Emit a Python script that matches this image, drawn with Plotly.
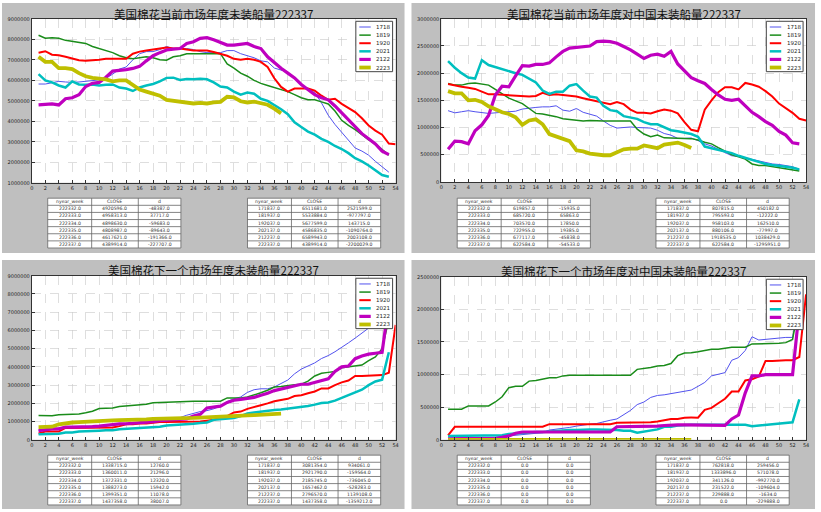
import plotly.graph_objects as go

W, H = 821, 512


def fx(p):
    return p / W


def fy(p):
    return 1 - p / H


UNIT = 1_000_000
names = ["1718", "1819", "1920", "2021", "2122", "2223"]
colors = ["#5252ee", "#1a8c1a", "#ff0000", "#00bfbf", "#bf00bf", "#bfbf00"]
widths = [1.0, 1.5, 2.0, 2.5, 3.2, 3.8]

# ---------- Panel A: current marketing year, total (millions) ----------
A1718 = [5.82, 5.82, 5.88, 5.95, 5.92, 5.90, 5.92, 5.95, 6.00, 6.02,
         6.10, 6.30, 6.55, 6.65, 7.00, 7.30, 7.40, 7.40, 7.50, 7.65,
         7.55, 7.55, 7.55, 7.50, 7.40, 7.35, 7.35, 7.35, 7.45, 7.45,
         7.30, 7.20, 7.10, 6.95, 6.90, 6.60, 6.511681, 6.40, 6.10, 5.80,
         5.60, 5.40, 4.90, 4.30, 3.85, 3.45, 3.05, 2.70, 2.55, 2.35,
         2.05, 1.80, 1.52]
A1819 = [8.20, 8.05, 8.08, 8.05, 7.95, 7.90, 7.85, 7.80, 7.65, 7.55,
         7.45, 7.35, 7.20, 7.10, 7.05, 7.10, 7.15, 7.10, 7.00, 6.98,
         7.15, 7.20, 7.30, 7.30, 7.30, 7.30, 7.30, 7.30, 6.80, 6.60,
         6.35, 6.20, 6.00, 5.85, 5.75, 5.65, 5.533884, 5.45, 5.30, 5.15,
         5.05, 5.05, 4.95, 4.85, 4.50, 4.05, 3.80, 3.60, 3.35, 3.10,
         2.90, 2.60, 2.35]
A1920 = [7.35, 7.42, 7.25, 7.22, 7.15, 7.05, 6.98, 6.95, 6.97, 7.00,
         7.05, 7.05, 7.02, 7.05, 7.30, 7.40, 7.45, 7.50, 7.55, 7.60,
         7.55, 7.55, 7.50, 7.45, 7.45, 7.45, 7.38, 7.30, 7.20, 7.05,
         7.00, 7.05, 7.00, 6.90, 6.65, 6.10, 5.677599, 5.45, 5.60, 5.60,
         5.60, 5.50, 5.25, 5.05, 5.10, 4.85, 4.65, 4.45, 4.15, 3.80,
         3.55, 3.35, 2.92, 2.88]
A2021 = [6.30, 6.00, 5.90, 5.75, 5.65, 5.95, 5.80, 5.78, 5.80, 5.75,
         5.78, 5.80, 5.65, 5.60, 5.48, 5.65, 5.75, 5.82, 5.95, 6.12,
         6.13, 6.02, 6.07, 6.05, 6.08, 6.05, 5.90, 5.70, 5.65, 5.45,
         5.30, 5.40, 5.35, 5.10, 5.00, 4.80, 4.586835, 4.35, 3.95, 3.72,
         3.50, 3.35, 3.15, 3.00, 2.80, 2.65, 2.45, 2.20, 2.05, 1.85,
         1.60, 1.38, 1.30]
A2122 = [4.80, 4.82, 4.85, 4.80, 5.10, 5.15, 5.30, 5.70, 5.85, 5.90,
         6.15, 6.45, 6.48, 6.52, 6.58, 6.68, 6.95, 7.20, 7.35, 7.48,
         7.52, 7.55, 7.80, 7.88, 8.05, 8.08, 7.98, 7.85, 7.72, 7.72,
         7.75, 7.80, 7.65, 7.55, 7.15, 6.85, 6.589943, 6.35, 6.12, 5.80,
         5.55, 5.30, 5.15, 5.05, 4.75, 4.40, 4.05, 3.75, 3.40, 3.15,
         2.90, 2.55, 2.38]
A2223 = [7.15, 6.90, 6.90, 6.60, 6.60, 6.55, 6.35, 6.20, 6.12, 6.10,
         6.05, 5.95, 6.00, 6.00, 5.80, 5.55, 5.45, 5.35, 5.25, 5.05,
         5.00, 4.95, 4.90, 4.87, 4.90, 4.87, 4.92, 4.95, 5.20, 5.17,
         4.98, 4.920596, 4.958313, 4.898630, 4.808987, 4.617621, 4.389914]

# ---------- Panel B: current marketing year, to China (millions) ----------
B1718 = [1.31, 1.27, 1.29, 1.31, 1.29, 1.27, 1.26, 1.27, 1.28, 1.29,
         1.30, 1.34, 1.36, 1.37, 1.38, 1.38, 1.40, 1.32, 1.30, 1.35,
         1.28, 1.25, 1.21, 1.12, 1.04, 0.99, 1.00, 1.01, 1.00, 0.99,
         0.99, 0.95, 0.89, 0.86, 0.80, 0.80, 0.807815, 0.76, 0.70, 0.66,
         0.60, 0.55, 0.48, 0.47, 0.44, 0.41, 0.38, 0.35, 0.33, 0.32,
         0.30, 0.28, 0.23]
B1819 = [1.81, 1.78, 1.78, 1.81, 1.82, 1.80, 1.78, 1.70, 1.62, 1.54,
         1.49, 1.44, 1.35, 1.26, 1.25, 1.23, 1.20, 1.16, 1.15, 1.13,
         1.12, 1.13, 1.12, 1.12, 1.12, 1.12, 1.12, 1.12, 0.97, 0.88,
         0.83, 0.86, 0.81, 0.81, 0.81, 0.80, 0.795593, 0.77, 0.73, 0.70,
         0.63, 0.56, 0.50, 0.46, 0.42, 0.33, 0.30, 0.30, 0.28, 0.26,
         0.25, 0.23, 0.20]
B1920 = [1.80, 1.77, 1.75, 1.73, 1.71, 1.66, 1.61, 1.61, 1.60, 1.60,
         1.59, 1.58, 1.57, 1.58, 1.64, 1.60, 1.61, 1.60, 1.59, 1.57,
         1.54, 1.51, 1.48, 1.46, 1.43, 1.47, 1.43, 1.33, 1.27, 1.27,
         1.26, 1.30, 1.33, 1.31, 1.26, 1.10, 0.958103, 0.93, 1.33, 1.50,
         1.65, 1.74, 1.74, 1.70, 1.82, 1.79, 1.75, 1.67, 1.57, 1.44,
         1.35, 1.27, 1.16, 1.13]
B2021 = [2.22, 2.10, 2.00, 1.92, 1.90, 2.24, 2.15, 2.11, 2.08, 2.04,
         2.00, 1.97, 1.90, 1.83, 1.68, 1.62, 1.66, 1.66, 1.77, 1.80,
         1.68, 1.57, 1.55, 1.40, 1.32, 1.30, 1.21, 1.18, 1.16, 1.10,
         1.06, 1.06, 1.00, 0.95, 0.93, 0.90, 0.880106, 0.83, 0.65, 0.62,
         0.59, 0.57, 0.53, 0.48, 0.44, 0.41, 0.37, 0.33, 0.31, 0.30,
         0.28, 0.26, 0.23]
B2122 = [0.60, 0.75, 0.74, 0.70, 0.94, 1.05, 1.22, 1.60, 1.76, 1.75,
         1.95, 2.14, 2.13, 2.16, 2.16, 2.19, 2.30, 2.40, 2.46, 2.47,
         2.49, 2.50, 2.58, 2.59, 2.58, 2.55, 2.49, 2.43, 2.35, 2.27,
         2.33, 2.35, 2.31, 2.40, 2.17, 2.04, 1.918535, 1.86, 1.81, 1.70,
         1.60, 1.52, 1.50, 1.52, 1.40, 1.28, 1.20, 1.11, 1.04, 0.93,
         0.86, 0.72, 0.70]
B2223 = [1.67, 1.63, 1.63, 1.50, 1.51, 1.47, 1.39, 1.34, 1.28, 1.25,
         1.19, 1.05, 1.13, 1.15, 1.06, 0.88, 0.84, 0.79, 0.75, 0.58,
         0.56, 0.52, 0.50, 0.49, 0.49, 0.55, 0.60, 0.61, 0.61, 0.67,
         0.64, 0.619857, 0.685720, 0.703570, 0.722955, 0.677117, 0.622584]

# ---------- Panel C: next marketing year, total (millions) ----------
C1718 = [0.50, 0.55, 0.60, 0.62, 0.65, 0.68, 0.70, 0.72, 0.75, 0.78,
         0.80, 0.82, 0.85, 0.88, 0.90, 0.93, 0.97, 1.00, 1.05, 1.10,
         1.15, 1.22, 1.35, 1.45, 1.55, 1.60, 1.70, 1.85, 2.10, 2.25,
         2.35, 2.60, 2.75, 2.80, 2.80, 2.90, 3.081354, 3.28, 3.62, 3.88,
         4.05, 4.22, 4.46, 4.62, 4.83, 5.10, 5.32, 5.58, 5.85, 6.10,
         6.40, 6.75, 7.60]
C1819 = [1.33, 1.32, 1.32, 1.37, 1.38, 1.39, 1.42, 1.48, 1.57, 1.72,
         1.74, 1.75, 1.83, 1.85, 1.90, 1.93, 1.95, 2.03, 2.06, 2.06,
         2.07, 2.10, 2.12, 2.12, 2.12, 2.12, 2.12, 2.12, 2.30, 2.30,
         2.30, 2.35, 2.45, 2.58, 2.72, 2.90, 2.921790, 2.98, 3.02, 3.05,
         3.22, 3.50, 3.65, 3.70, 3.75, 3.95, 4.00, 4.05, 4.10, 4.35,
         4.55, 5.00, 6.60]
C1920 = [0.35, 0.45, 0.45, 0.45, 0.65, 0.65, 0.65, 0.65, 0.68, 0.68,
         0.68, 0.68, 0.75, 0.85, 0.85, 0.90, 0.90, 0.95, 0.98, 0.98,
         0.98, 0.98, 0.98, 0.98, 1.00, 1.05, 1.10, 1.20, 1.30, 1.50,
         1.55, 1.70, 1.78, 1.90, 2.00, 2.12, 2.185745, 2.25, 2.40, 2.45,
         2.55, 2.65, 2.82, 2.82, 3.00, 3.15, 3.25, 3.50, 3.50, 3.52,
         3.53, 3.55, 3.68, 6.30]
C2021 = [0.30, 0.32, 0.32, 0.33, 0.40, 0.40, 0.45, 0.48, 0.49, 0.50,
         0.52, 0.52, 0.58, 0.60, 0.60, 0.63, 0.66, 0.70, 0.72, 0.78,
         0.80, 0.80, 0.85, 0.88, 0.92, 0.95, 1.10, 1.12, 1.15, 1.20,
         1.30, 1.45, 1.50, 1.55, 1.60, 1.63, 1.657462, 1.70, 1.75, 1.82,
         1.85, 1.93, 2.02, 2.05, 2.15, 2.30, 2.45, 2.60, 2.75, 3.00,
         3.20, 3.30, 4.80]
C2122 = [0.50, 0.55, 0.60, 0.60, 0.70, 0.70, 0.70, 0.70, 0.72, 0.75,
         0.80, 0.85, 0.87, 0.88, 0.90, 0.93, 0.95, 1.00, 1.05, 1.08,
         1.10, 1.12, 1.15, 1.30, 1.40, 1.75, 1.80, 1.85, 2.05, 2.17,
         2.22, 2.28, 2.33, 2.45, 2.55, 2.70, 2.796570, 2.85, 2.95, 3.05,
         3.05, 3.15, 3.25, 3.35, 3.75, 4.00, 4.05, 4.45, 4.60, 4.70,
         4.75, 4.80, 7.50]
C2223 = [0.70, 0.70, 0.72, 0.85, 0.92, 0.95, 0.97, 1.00, 1.02, 1.05,
         1.07, 1.07, 1.08, 1.08, 1.10, 1.10, 1.12, 1.15, 1.15, 1.18,
         1.18, 1.18, 1.20, 1.20, 1.22, 1.23, 1.25, 1.25, 1.28, 1.30,
         1.32, 1.338715, 1.360011, 1.372331, 1.388273, 1.399351, 1.437358]

# ---------- Panel D: next marketing year, to China (millions) ----------
D1718 = [0.03, 0.03, 0.03, 0.03, 0.03, 0.03, 0.04, 0.04, 0.05, 0.06,
         0.07, 0.08, 0.09, 0.10, 0.11, 0.15, 0.16, 0.18, 0.19, 0.21,
         0.23, 0.24, 0.25, 0.28, 0.30, 0.32, 0.39, 0.45, 0.54, 0.58,
         0.65, 0.68, 0.69, 0.71, 0.73, 0.74, 0.762818, 0.82, 0.88, 0.98,
         1.00, 1.03, 1.22, 1.26, 1.37, 1.58, 1.53, 1.54, 1.55, 1.57,
         1.57, 1.57, 2.10]
D1819 = [0.47, 0.47, 0.47, 0.52, 0.52, 0.52, 0.52, 0.58, 0.66, 0.80,
         0.82, 0.82, 0.90, 0.91, 0.93, 0.95, 0.95, 0.98, 0.99, 0.99,
         0.99, 0.99, 0.99, 0.99, 0.99, 0.99, 0.99, 0.99, 1.08, 1.09,
         1.11, 1.13, 1.14, 1.17, 1.29, 1.33, 1.333896, 1.35, 1.37, 1.39,
         1.39, 1.41, 1.42, 1.42, 1.42, 1.47, 1.47, 1.47, 1.47, 1.48,
         1.49, 1.54, 2.10]
D1920 = [0.07, 0.20, 0.20, 0.20, 0.20, 0.20, 0.20, 0.20, 0.20, 0.20,
         0.20, 0.20, 0.20, 0.20, 0.20, 0.24, 0.24, 0.24, 0.24, 0.24,
         0.24, 0.24, 0.24, 0.24, 0.24, 0.26, 0.26, 0.26, 0.26, 0.27,
         0.27, 0.28, 0.30, 0.32, 0.32, 0.34, 0.341126, 0.34, 0.46, 0.49,
         0.56, 0.63, 0.74, 0.74, 0.91, 0.93, 0.97, 1.21, 1.21, 1.22,
         1.22, 1.22, 1.27, 2.23]
D2021 = [0.06, 0.06, 0.07, 0.07, 0.07, 0.07, 0.07, 0.07, 0.07, 0.09,
         0.10, 0.11, 0.12, 0.12, 0.12, 0.13, 0.14, 0.14, 0.15, 0.15,
         0.16, 0.16, 0.16, 0.16, 0.16, 0.15, 0.14, 0.14, 0.11, 0.13,
         0.14, 0.16, 0.20, 0.20, 0.22, 0.23, 0.231522, 0.23, 0.23, 0.23,
         0.23, 0.23, 0.23, 0.23, 0.23, 0.21, 0.22, 0.23, 0.24, 0.25,
         0.26, 0.27, 0.62]
D2122 = [0.01, 0.02, 0.02, 0.02, 0.02, 0.02, 0.02, 0.02, 0.04, 0.06,
         0.10, 0.12, 0.12, 0.12, 0.12, 0.12, 0.12, 0.12, 0.12, 0.12,
         0.12, 0.12, 0.12, 0.12, 0.12, 0.20, 0.20, 0.20, 0.20, 0.20,
         0.20, 0.21, 0.22, 0.23, 0.23, 0.23, 0.229888, 0.22, 0.22, 0.22,
         0.22, 0.22, 0.32, 0.38, 0.72, 0.98, 0.98, 1.00, 1.00, 1.00,
         1.00, 1.00, 2.00]
D2223 = [0.0, 0.0, 0.0, 0.0, 0.0, 0.0, 0.0, 0.0, 0.0, 0.0,
         0.0, 0.0, 0.0, 0.0, 0.0, 0.0, 0.0, 0.0, 0.0, 0.0,
         0.0, 0.0, 0.0, 0.0, 0.0, 0.0, 0.0, 0.0, 0.0, 0.0,
         0.0, 0.0, 0.0, 0.0, 0.0, 0.0, 0.0]

titles = ["美国棉花当前市场年度未装船量222337",
          "美国棉花当前市场年度对中国未装船量222337",
          "美国棉花下一个市场年度未装船量222337",
          "美国棉花下一个市场年度对中国未装船量222337"]

# ---------- tables ----------
tbl_header = ["nyear_week", "CLOSE", "d"]
recent_weeks = ["222332.0", "222333.0", "222334.0", "222335.0", "222336.0", "222337.0"]
same_weeks = ["171837.0", "181937.0", "192037.0", "202137.0", "212237.0", "222337.0"]

A_recent_close = ["4920596.0", "4958313.0", "4898630.0", "4808987.0", "4617621.0", "4389914.0"]
A_recent_d = ["-48387.0", "37717.0", "-59683.0", "-89643.0", "-191366.0", "-227707.0"]
A_same_close = ["6511681.0", "5533884.0", "5677599.0", "4586835.0", "6589943.0", "4389914.0"]
A_same_d = ["2521599.0", "-977797.0", "143715.0", "-1090764.0", "2003108.0", "-2200029.0"]

B_recent_close = ["619857.0", "685720.0", "703570.0", "722955.0", "677117.0", "622584.0"]
B_recent_d = ["-15935.0", "65863.0", "17850.0", "19385.0", "-45838.0", "-54533.0"]
B_same_close = ["807815.0", "795593.0", "958103.0", "880106.0", "1918535.0", "622584.0"]
B_same_d = ["450182.0", "-12222.0", "162510.0", "-77997.0", "1038429.0", "-1295951.0"]

C_recent_close = ["1338715.0", "1360011.0", "1372331.0", "1388273.0", "1399351.0", "1437358.0"]
C_recent_d = ["12760.0", "21296.0", "12320.0", "15942.0", "11078.0", "38007.0"]
C_same_close = ["3081354.0", "2921790.0", "2185745.0", "1657462.0", "2796570.0", "1437358.0"]
C_same_d = ["934061.0", "-159564.0", "-736045.0", "-528283.0", "1139108.0", "-1359212.0"]

D_recent_close = ["0.0", "0.0", "0.0", "0.0", "0.0", "0.0"]
D_recent_d = ["0.0", "0.0", "0.0", "0.0", "0.0", "0.0"]
D_same_close = ["762818.0", "1333896.0", "341126.0", "231522.0", "229888.0", "0.0"]
D_same_d = ["259456.0", "571078.0", "-992770.0", "-109604.0", "-1634.0", "-229888.0"]

panels = [
    dict(data=[A1718, A1819, A1920, A2021, A2122, A2223], yr=[1e6, 9e6], dt=1e6,
         box=(30, 396, 16, 182), bg=(0, 405, 0, 253), ty=11.5, tabtop=197.5,
         tabs=[(46, 180, recent_weeks, A_recent_close, A_recent_d),
               (247, 381, same_weeks, A_same_close, A_same_d)]),
    dict(data=[B1718, B1819, B1920, B2021, B2122, B2223], yr=[0, 3e6], dt=5e5,
         box=(442, 809, 16, 181), bg=(412, 818, 0, 253), ty=11.5, tabtop=197.5,
         tabs=[(458, 592, recent_weeks, B_recent_close, B_recent_d),
               (658, 792, same_weeks, B_same_close, B_same_d)]),
    dict(data=[C1718, C1819, C1920, C2021, C2122, C2223], yr=[0, 9e6], dt=1e6,
         box=(30, 396, 276, 442), bg=(0, 405, 260, 512), ty=270.5, tabtop=457.5,
         tabs=[(46, 180, recent_weeks, C_recent_close, C_recent_d),
               (247, 381, same_weeks, C_same_close, C_same_d)]),
    dict(data=[D1718, D1819, D1920, D2021, D2122, D2223], yr=[0, 2.5e6], dt=5e5,
         box=(442, 809, 277, 442), bg=(412, 818, 260, 512), ty=271, tabtop=457.5,
         tabs=[(458, 592, recent_weeks, D_recent_close, D_recent_d),
               (658, 792, same_weeks, D_same_close, D_same_d)]),
]

fig = go.Figure()
shapes = []
annotations = []
layout_axes = {}
ROW_H = 7.2
COL_FRAC = [0.0, 0.33, 0.68, 1.0]
TBL_LINE = dict(color="#666", width=0.8)
TBL_FONT = dict(family="DejaVu Sans", size=4.6, color="#333")

for i, p in enumerate(panels):
    n = "" if i == 0 else str(i + 1)
    l, r, t, b = p["box"]
    gx0, gx1, gy0, gy1 = p["bg"]
    # panel background (grey) and plot area (white)
    shapes.append(dict(type="rect", xref="paper", yref="paper", layer="below",
                       x0=fx(gx0), x1=fx(gx1), y0=fy(gy1), y1=fy(gy0),
                       fillcolor="#bfbfbf", line=dict(width=0)))
    shapes.append(dict(type="rect", xref="paper", yref="paper", layer="below",
                       x0=fx(l), x1=fx(r), y0=fy(b), y1=fy(t),
                       fillcolor="white", line=dict(width=0)))
    axfont = dict(family="DejaVu Sans", size=5, color="#222")
    layout_axes["xaxis" + n] = dict(
        domain=[fx(l), fx(r)], range=[0, 54], dtick=2, tick0=0,
        anchor="y" + n, showgrid=True, gridcolor="#c8c8c8", griddash="dash",
        gridwidth=0.6, showline=True, mirror=True, linecolor="#333",
        linewidth=1, ticks="inside", ticklen=3, tickcolor="#333",
        tickfont=axfont, zeroline=False, fixedrange=True)
    layout_axes["yaxis" + n] = dict(
        domain=[fy(b), fy(t)], range=p["yr"], dtick=p["dt"], tick0=0,
        anchor="x" + n, showgrid=True, gridcolor="#c8c8c8", griddash="dash",
        gridwidth=0.6, showline=True, mirror=True, linecolor="#333",
        linewidth=1, ticks="inside", ticklen=3, tickcolor="#333",
        tickfont=axfont, tickformat="d", zeroline=False, fixedrange=True)

    for k, series in enumerate(p["data"]):
        xs = list(range(1, len(series) + 1))
        ys = [v * UNIT for v in series]
        fig.add_trace(go.Scatter(x=xs, y=ys, mode="lines", name=names[k],
                                 xaxis="x" + n, yaxis="y" + n,
                                 line=dict(color=colors[k], width=widths[k]),
                                 showlegend=False, hoverinfo="skip"))

    # title
    annotations.append(dict(text=titles[i], xref="paper", yref="paper",
                            x=fx((l + r) / 2), y=fy(p["ty"]), xanchor="center",
                            yanchor="middle", showarrow=False,
                            font=dict(family="Noto Sans CJK SC", size=11.5, color="#111")))

    # compact legend box
    bx1 = r - 3
    bx0 = bx1 - 37
    by0 = t + 2.5
    by1 = by0 + 51
    shapes.append(dict(type="rect", xref="paper", yref="paper", layer="above",
                       x0=fx(bx0), x1=fx(bx1), y0=fy(by1), y1=fy(by0),
                       fillcolor="white", line=dict(color="#444", width=1)))
    for k in range(6):
        yy = by0 + 5.8 + k * 8.2
        shapes.append(dict(type="line", xref="paper", yref="paper", layer="above",
                           x0=fx(bx0 + 3.5), x1=fx(bx0 + 15), y0=fy(yy), y1=fy(yy),
                           line=dict(color=colors[k], width=widths[k])))
        annotations.append(dict(text=names[k], xref="paper", yref="paper",
                                x=fx(bx0 + 18.5), y=fy(yy), xanchor="left",
                                yanchor="middle", showarrow=False,
                                font=dict(family="DejaVu Sans", size=5.5, color="#222")))

    # tables (grid + cell text)
    for (tx0, tx1, wk, cl, dd) in p["tabs"]:
        top = p["tabtop"]
        bottom = top + 7 * ROW_H
        shapes.append(dict(type="rect", xref="paper", yref="paper", layer="above",
                           x0=fx(tx0), x1=fx(tx1), y0=fy(bottom), y1=fy(top),
                           fillcolor="white", line=TBL_LINE))
        cols_x = [tx0 + f * (tx1 - tx0) for f in COL_FRAC]
        for cx in cols_x[1:-1]:
            shapes.append(dict(type="line", xref="paper", yref="paper", layer="above",
                               x0=fx(cx), x1=fx(cx), y0=fy(bottom), y1=fy(top),
                               line=TBL_LINE))
        for rr in range(1, 7):
            ry = top + rr * ROW_H
            shapes.append(dict(type="line", xref="paper", yref="paper", layer="above",
                               x0=fx(tx0), x1=fx(tx1), y0=fy(ry), y1=fy(ry),
                               line=TBL_LINE))
        rows = [tbl_header] + [[wk[j], cl[j], dd[j]] for j in range(6)]
        for rr, row in enumerate(rows):
            cy = top + (rr + 0.5) * ROW_H
            for cc, txt in enumerate(row):
                cx = (cols_x[cc] + cols_x[cc + 1]) / 2
                annotations.append(dict(text=txt, xref="paper", yref="paper",
                                        x=fx(cx), y=fy(cy), xanchor="center",
                                        yanchor="middle", showarrow=False,
                                        font=TBL_FONT))

fig.update_layout(width=W, height=H, autosize=False,
                  margin=dict(l=0, r=0, t=0, b=0),
                  paper_bgcolor="white", plot_bgcolor="white",
                  showlegend=False, shapes=shapes, annotations=annotations,
                  **layout_axes)

fig.write_html("out.html",
               config={"displayModeBar": False, "staticPlot": True},
               post_script="document.body.style.margin='0';"
                           "document.body.style.overflow='hidden';")
